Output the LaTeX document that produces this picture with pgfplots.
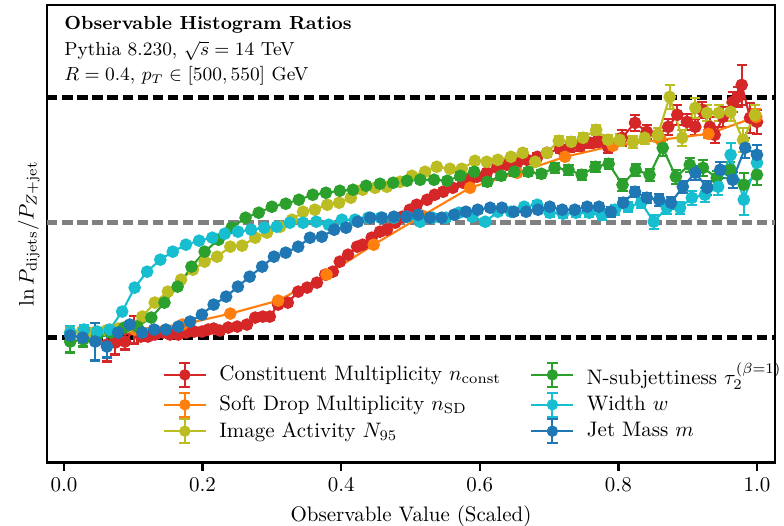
\documentclass[border=0pt]{standalone}
\usepackage{pgfplots}
\pgfplotsset{compat=1.18}
\usepackage{pgfplotstable}

\definecolor{cred}{HTML}{D62728}
\definecolor{corange}{HTML}{FF7F0E}
\definecolor{colive}{HTML}{BCBD22}
\definecolor{cgreen}{HTML}{2CA02C}
\definecolor{ccyan}{HTML}{17BECF}
\definecolor{cblue}{HTML}{1F77B4}
\definecolor{cgray}{HTML}{808080}

% constituent multiplicity
\pgfplotstableread{
x y e
0.062 -0.07 0.17
0.074 -0.05 0.12
0.088 -0.04 0.08
0.101 0.08 0.14
0.111 0.01 0.04
0.121 0.01 0.03
0.131 0.03 0.03
0.143 0.05 0.03
0.153 0.03 0.03
0.165 0.03 0.03
0.176 0.05 0.03
0.188 0.06 0.03
0.199 0.06 0.03
0.208 0.08 0.03
0.216 0.09 0.03
0.225 0.07 0.03
0.237 0.10 0.03
0.250 0.11 0.03
0.264 0.13 0.03
0.276 0.20 0.03
0.287 0.21 0.03
0.297 0.21 0.03
0.309 0.33 0.03
0.323 0.35 0.03
0.338 0.46 0.03
0.351 0.50 0.03
0.365 0.55 0.03
0.377 0.63 0.03
0.388 0.66 0.03
0.398 0.76 0.03
0.410 0.83 0.03
0.423 0.91 0.03
0.431 0.93 0.03
0.444 1.00 0.03
0.456 1.06 0.03
0.466 1.08 0.03
0.478 1.15 0.03
0.488 1.21 0.03
0.499 1.28 0.03
0.509 1.33 0.03
0.524 1.38 0.03
0.535 1.43 0.03
0.547 1.46 0.03
0.561 1.50 0.03
0.576 1.55 0.03
0.586 1.58 0.03
0.596 1.61 0.03
0.610 1.65 0.03
0.625 1.70 0.03
0.639 1.73 0.03
0.654 1.75 0.03
0.668 1.78 0.03
0.683 1.81 0.04
0.697 1.85 0.04
0.716 1.89 0.04
0.730 1.91 0.05
0.745 1.92 0.05
0.759 1.95 0.05
0.771 1.96 0.05
0.785 1.91 0.06
0.805 2.00 0.08
0.824 2.15 0.08
0.841 2.06 0.07
0.857 2.03 0.07
0.872 2.11 0.08
0.885 2.23 0.10
0.899 2.16 0.08
0.911 2.11 0.08
0.921 2.28 0.08
0.932 2.11 0.10
0.939 2.03 0.08
0.951 2.21 0.10
0.965 2.36 0.10
0.973 2.41 0.10
0.978 2.53 0.20
0.990 2.20 0.15
1.000 2.16 0.12
}\redtab

% soft drop multiplicity
\pgfplotstableread{
x y e
0.035 0.05 0.03
0.102 0.08 0.03
0.171 0.13 0.02
0.240 0.24 0.02
0.309 0.37 0.02
0.379 0.63 0.02
0.447 0.93 0.02
0.517 1.22 0.02
0.586 1.50 0.02
0.654 1.65 0.02
0.723 1.81 0.02
0.792 1.92 0.03
0.861 1.98 0.03
0.930 2.04 0.04
0.999 2.21 0.08
}\orangetab

% image activity
\pgfplotstableread{
x y e
0.009 0.05 0.05
0.026 0.06 0.04
0.043 0.05 0.04
0.061 0.07 0.03
0.078 0.09 0.03
0.095 0.12 0.03
0.113 0.21 0.03
0.131 0.35 0.02
0.150 0.46 0.02
0.169 0.58 0.02
0.186 0.68 0.02
0.203 0.76 0.02
0.221 0.81 0.02
0.240 0.91 0.02
0.257 0.92 0.02
0.276 1.00 0.02
0.293 1.05 0.02
0.312 1.11 0.02
0.329 1.18 0.02
0.345 1.26 0.02
0.362 1.28 0.02
0.380 1.33 0.02
0.397 1.35 0.02
0.414 1.40 0.02
0.431 1.48 0.02
0.449 1.50 0.02
0.466 1.51 0.02
0.485 1.56 0.02
0.502 1.62 0.03
0.521 1.66 0.03
0.538 1.71 0.03
0.557 1.69 0.03
0.574 1.69 0.03
0.593 1.77 0.03
0.610 1.76 0.03
0.626 1.78 0.03
0.645 1.81 0.03
0.662 1.85 0.04
0.680 1.76 0.04
0.697 1.85 0.04
0.714 1.97 0.05
0.732 1.96 0.05
0.749 2.00 0.05
0.768 2.08 0.05
0.785 1.98 0.05
0.802 1.98 0.06
0.821 1.96 0.06
0.838 2.00 0.06
0.857 2.03 0.07
0.874 2.41 0.12
0.892 2.00 0.08
0.911 2.30 0.10
0.928 2.25 0.08
0.945 2.25 0.08
0.962 2.26 0.09
0.980 1.98 0.12
0.997 2.23 0.10
}\olivetab

% N-subjettiness
\pgfplotstableread{
x y e
0.009 -0.04 0.11
0.028 -0.02 0.07
0.048 0.02 0.05
0.067 0.05 0.03
0.087 0.10 0.03
0.106 0.11 0.03
0.126 0.20 0.02
0.145 0.35 0.02
0.164 0.51 0.02
0.184 0.71 0.02
0.203 0.86 0.02
0.223 0.98 0.02
0.242 1.10 0.02
0.262 1.20 0.02
0.281 1.25 0.02
0.300 1.31 0.02
0.320 1.34 0.02
0.339 1.38 0.02
0.359 1.43 0.02
0.378 1.45 0.02
0.398 1.47 0.02
0.417 1.48 0.02
0.436 1.52 0.02
0.456 1.54 0.02
0.475 1.55 0.02
0.495 1.57 0.03
0.514 1.58 0.03
0.534 1.58 0.03
0.553 1.57 0.03
0.572 1.62 0.04
0.592 1.66 0.04
0.611 1.56 0.04
0.631 1.62 0.04
0.650 1.66 0.04
0.670 1.66 0.04
0.689 1.64 0.04
0.708 1.70 0.05
0.728 1.68 0.05
0.747 1.63 0.05
0.767 1.71 0.05
0.786 1.74 0.05
0.806 1.53 0.06
0.825 1.68 0.06
0.845 1.63 0.06
0.864 1.90 0.08
0.883 1.61 0.07
0.903 1.73 0.07
0.922 1.70 0.08
0.942 1.60 0.07
0.961 1.68 0.08
0.981 1.53 0.12
1.000 1.63 0.10
}\greentab

% width
\pgfplotstableread{
x y e
0.009 0.05 0.07
0.029 0.08 0.05
0.048 0.06 0.04
0.066 0.08 0.04
0.084 0.26 0.03
0.102 0.50 0.02
0.120 0.66 0.02
0.139 0.78 0.02
0.157 0.86 0.02
0.176 0.93 0.02
0.195 0.97 0.02
0.214 1.00 0.02
0.232 1.04 0.02
0.251 1.06 0.02
0.270 1.08 0.02
0.289 1.10 0.02
0.307 1.11 0.02
0.326 1.15 0.02
0.345 1.15 0.02
0.364 1.16 0.02
0.382 1.13 0.02
0.401 1.18 0.02
0.420 1.18 0.02
0.439 1.20 0.02
0.457 1.20 0.02
0.476 1.20 0.02
0.495 1.21 0.03
0.514 1.16 0.03
0.532 1.20 0.03
0.551 1.20 0.03
0.570 1.25 0.03
0.589 1.21 0.03
0.608 1.16 0.03
0.626 1.26 0.03
0.645 1.26 0.03
0.664 1.31 0.03
0.683 1.33 0.04
0.701 1.25 0.04
0.720 1.24 0.04
0.739 1.25 0.04
0.758 1.25 0.04
0.776 1.23 0.05
0.795 1.28 0.05
0.814 1.31 0.05
0.833 1.35 0.05
0.851 1.16 0.07
0.870 1.30 0.06
0.889 1.30 0.06
0.906 1.40 0.07
0.925 1.43 0.07
0.944 1.51 0.08
0.962 1.83 0.12
0.981 1.38 0.15
1.000 1.75 0.12
}\cyantab

% jet mass
\pgfplotstableread{
x y e
0.009 0.02 0.05
0.027 0.00 0.05
0.045 -0.04 0.19
0.062 -0.09 0.11
0.078 0.05 0.05
0.095 0.13 0.03
0.113 0.05 0.03
0.130 0.08 0.02
0.147 0.08 0.02
0.165 0.11 0.02
0.182 0.16 0.02
0.199 0.23 0.02
0.216 0.33 0.02
0.234 0.41 0.02
0.251 0.51 0.02
0.268 0.61 0.02
0.286 0.71 0.02
0.303 0.81 0.02
0.320 0.85 0.02
0.338 0.91 0.02
0.355 1.00 0.02
0.372 1.01 0.02
0.390 1.08 0.02
0.407 1.10 0.02
0.424 1.16 0.02
0.442 1.20 0.02
0.459 1.20 0.02
0.476 1.21 0.02
0.494 1.21 0.02
0.511 1.23 0.02
0.528 1.20 0.02
0.545 1.20 0.02
0.563 1.23 0.02
0.580 1.26 0.03
0.597 1.28 0.03
0.615 1.30 0.03
0.632 1.30 0.03
0.649 1.26 0.03
0.667 1.26 0.03
0.684 1.28 0.03
0.701 1.31 0.03
0.719 1.28 0.04
0.737 1.28 0.04
0.755 1.31 0.04
0.772 1.31 0.04
0.789 1.26 0.05
0.807 1.35 0.05
0.824 1.46 0.05
0.841 1.40 0.05
0.859 1.38 0.06
0.876 1.35 0.06
0.893 1.51 0.06
0.911 1.65 0.07
0.928 1.50 0.07
0.947 1.68 0.08
0.965 1.58 0.08
0.983 1.90 0.10
1.000 1.83 0.10
}\bluetab

\pgfplotsset{
  ser/.style={color=#1, mark=*, mark size=2.5pt, line width=1pt, forget plot,
    error bars/y dir=both, error bars/y explicit,
    error bars/error bar style={line width=1pt},
    error bars/error mark options={rotate=90, mark size=2.4pt, line width=1pt}},
  ebleg/.style={legend image code/.code={
    \draw[#1, line width=1pt] (0cm,0cm) -- (0.7cm,0cm);
    \draw[#1, line width=1pt] (0.35cm,-0.2cm) -- (0.35cm,0.2cm)
      (0.26cm,-0.2cm) -- (0.44cm,-0.2cm) (0.26cm,0.2cm) -- (0.44cm,0.2cm);
    \fill[#1] (0.35cm,0cm) circle (2.5pt);}},
}

\begin{document}
\begin{tikzpicture}
\begin{axis}[
  name=ax,
  width=347pt, height=218pt, scale only axis,
  xmin=-0.0245, xmax=1.026, ymin=-1.25, ymax=3.33,
  xtick={0,0.2,0.4,0.6,0.8,1.0},
  xticklabel style={/pgf/number format/.cd, fixed, fixed zerofill, precision=1},
  ytick=\empty,
  xtick pos=bottom,
  tick align=outside,
  major tick length=4pt,
  tick style={line width=1.2pt, black},
  axis line style={line width=1.2pt},
  xlabel={Observable Value (Scaled)},
  ylabel={$\ln P_{\mathrm{dijets}}/P_{Z+\mathrm{jet}}$},
  ylabel style={at={(axis description cs:0,0.5)}, anchor=south},
  legend columns=2,
  legend cell align=left,
  legend style={at={(0.150,0.238)}, anchor=north west, draw=none, fill=none,
    font=\normalsize, row sep=0pt,
    /tikz/every odd column/.append style={column sep=4pt},
    /tikz/every even column/.append style={column sep=12pt}},
  clip=false,
]
\addplot[black, line width=2.4pt, dash pattern=on 5pt off 2.2pt, forget plot] coordinates {(-0.0245,2.40) (1.026,2.40)};
\addplot[cgray, line width=2.4pt, dash pattern=on 5pt off 2.2pt, forget plot] coordinates {(-0.0245,1.15) (1.026,1.15)};
\addplot[black, line width=2.4pt, dash pattern=on 5pt off 2.2pt, forget plot] coordinates {(-0.0245,0) (1.026,0)};

\addplot[ser=cred] table[x=x, y=y, y error=e] {\redtab};
\addplot[ser=corange] table[x=x, y=y, y error=e] {\orangetab};
\addplot[ser=colive] table[x=x, y=y, y error=e] {\olivetab};
\addplot[ser=cgreen] table[x=x, y=y, y error=e] {\greentab};
\addplot[ser=ccyan] table[x=x, y=y, y error=e] {\cyantab};
\addplot[ser=cblue] table[x=x, y=y, y error=e] {\bluetab};

\addlegendimage{ebleg=cred}
\addlegendimage{ebleg=cgreen}
\addlegendimage{ebleg=corange}
\addlegendimage{ebleg=ccyan}
\addlegendimage{ebleg=colive}
\addlegendimage{ebleg=cblue}
\legend{Constituent Multiplicity $n_{\mathrm{const}}$, N-subjettiness $\tau_2^{(\beta=1)}$,
  Soft Drop Multiplicity $n_{\mathrm{SD}}$, Width $w$,
  Image Activity $N_{95}$, Jet Mass $m$}

\node[anchor=base west, inner sep=0pt, font=\bfseries\fontsize{9}{10}\selectfont] at (axis cs:0,3.08) {Observable Histogram Ratios};
\node[anchor=base west, inner sep=0pt, font=\fontsize{9}{10}\selectfont] at (axis cs:0,2.82) {Pythia 8.230, $\sqrt{s}=14$ TeV};
\node[anchor=base west, inner sep=0pt, font=\fontsize{9}{10}\selectfont] at (axis cs:0,2.57) {$R=0.4$, $p_T\in[500,550]$ GeV};
\end{axis}
\pgfresetboundingbox
\path ([xshift=-22.4pt,yshift=-30pt]ax.south west) rectangle ([xshift=4.3pt,yshift=2.4pt]ax.north east);
\end{tikzpicture}
\end{document}
